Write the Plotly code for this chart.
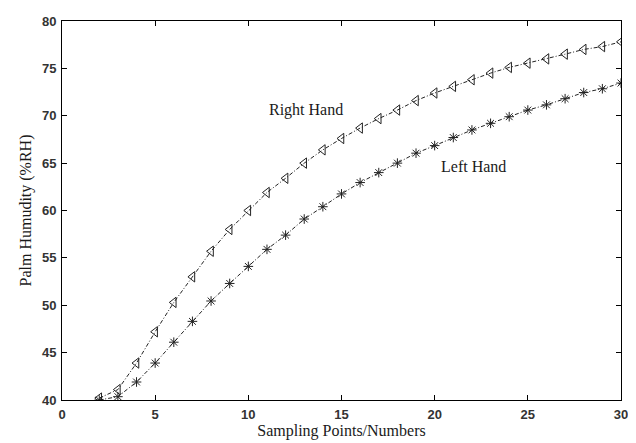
import plotly.graph_objects as go

sampling_points = list(range(2, 31))
right_hand = [40.2, 41.1, 43.9, 47.2, 50.3, 53.0, 55.7, 58.0, 60.0, 61.9, 63.4, 65.0,
              66.4, 67.6, 68.7, 69.7, 70.6, 71.6, 72.4, 73.1, 73.8, 74.5, 75.1, 75.55,
              76.0, 76.5, 77.0, 77.3, 77.8]
left_hand = [40.0, 40.35, 41.9, 43.9, 46.1, 48.3, 50.45, 52.3, 54.1, 55.9, 57.4, 59.1,
             60.4, 61.75, 62.95, 64.0, 65.0, 66.05, 66.85, 67.7, 68.5, 69.2, 69.9, 70.6,
             71.15, 71.8, 72.45, 72.85, 73.45]
x_ticks = [0, 5, 10, 15, 20, 25, 30]
y_ticks = [40, 45, 50, 55, 60, 65, 70, 75, 80]

fig = go.Figure()
fig.add_trace(go.Scatter(
    x=sampling_points, y=right_hand, mode="lines+markers", name="Right Hand",
    line=dict(color="#222", width=1, dash="4px,2px,1px,2px"),
    marker=dict(symbol="triangle-left-open", size=9, color="#222", line=dict(width=1))))
fig.add_trace(go.Scatter(
    x=sampling_points, y=left_hand, mode="lines+markers", name="Left Hand",
    line=dict(color="#222", width=1, dash="4px,2px,1px,2px"),
    marker=dict(symbol="asterisk-open", size=8, color="#222", line=dict(width=1, color="#222"))))

fig.add_annotation(x=13.1, y=70.6, text="Right Hand", showarrow=False,
                   font=dict(family="Liberation Serif", size=16, color="#1a1a1a"))
fig.add_annotation(x=22.1, y=64.6, text="Left Hand", showarrow=False,
                   font=dict(family="Liberation Serif", size=16, color="#1a1a1a"))

axis_common = dict(showgrid=False, zeroline=False, showline=True, linecolor="black",
                   linewidth=1, mirror="ticks", ticks="inside", ticklen=5,
                   tickcolor="black", tickwidth=1, automargin=False,
                   tickfont=dict(family="Liberation Sans", size=13, color="#333",
                                 weight="bold"))

# page body has an 8px default margin, so the figure is sized/offset to compensate
fig.update_layout(
    width=628, height=435,
    margin=dict(l=54, r=15, t=13, b=43),
    plot_bgcolor="white", paper_bgcolor="white",
    showlegend=False,
    xaxis=dict(range=[0, 30], tickvals=x_ticks, ticklabelstandoff=2,
               title=dict(text="Sampling Points/Numbers", standoff=3,
                          font=dict(family="Liberation Serif", size=16, color="#1a1a1a")),
               **axis_common),
    yaxis=dict(range=[40, 80], tickvals=y_ticks, ticklabelstandoff=2,
               title=dict(text="Palm Humudity (%RH)", standoff=6,
                          font=dict(family="Liberation Serif", size=16, color="#1a1a1a")),
               **axis_common),
)

fig.write_html("out.html")
